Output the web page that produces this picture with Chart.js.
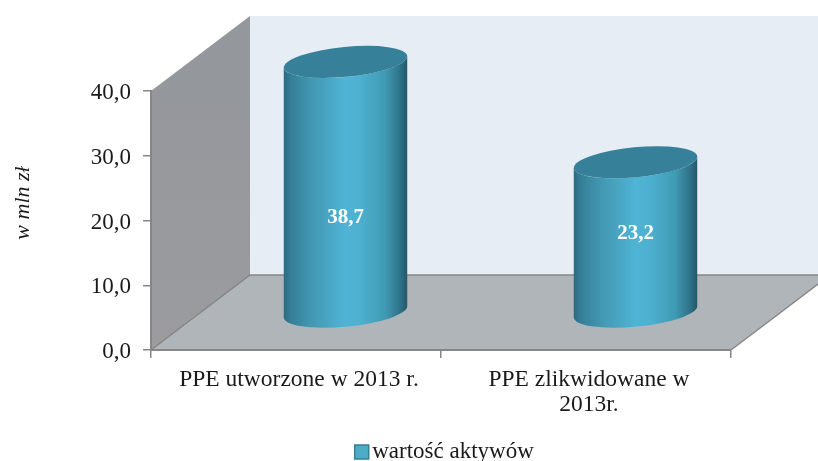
<!DOCTYPE html>
<html>
<head>
<meta charset="utf-8">
<script src="https://cdn.jsdelivr.net/npm/chart.js@4/dist/chart.umd.js"></script>
<style>
    html, body { margin: 0; padding: 0; background: #ffffff; }
    canvas { display: block; }
</style>
</head>
<body>
<canvas id="myChart" width="818" height="461"></canvas>
<script>
var categories = ["PPE utworzone w 2013 r.", ["PPE zlikwidowane w", "2013r."]];
var values = [38.7, 23.2];
var seriesName = "wartość aktywów";
var axisTitle = "w mln zł";

// how far the back wall sits from the front plane
var depthX = 99;
var depthY = -75;
var serif = "'Liberation Serif', serif";
var lineColor = "#868686";

var formatValue = (value) => {
    return value.toFixed(1).replace(".", ",");
}

var drawWalls = (chart) => {
    const ctx = chart.ctx;
    const area = chart.chartArea;

    // back wall
    ctx.fillStyle = "#e6edf4";
    ctx.fillRect(area.left + depthX, area.top + depthY, chart.width - area.left - depthX, area.bottom - area.top);

    // left wall
    let wallGradient = ctx.createLinearGradient(0, area.top, 0, area.bottom);
    wallGradient.addColorStop(0, "#94979c");
    wallGradient.addColorStop(1, "#9c9c9f");
    ctx.fillStyle = wallGradient;
    ctx.beginPath();
    ctx.moveTo(area.left, area.top);
    ctx.lineTo(area.left + depthX, area.top + depthY);
    ctx.lineTo(area.left + depthX, area.bottom + depthY);
    ctx.lineTo(area.left, area.bottom);
    ctx.closePath();
    ctx.fill();

    // floor
    ctx.fillStyle = "#b0b5ba";
    ctx.beginPath();
    ctx.moveTo(area.left, area.bottom);
    ctx.lineTo(area.right, area.bottom);
    ctx.lineTo(area.right + depthX, area.bottom + depthY);
    ctx.lineTo(area.left + depthX, area.bottom + depthY);
    ctx.closePath();
    ctx.fill();

    ctx.strokeStyle = lineColor;
    ctx.lineWidth = 1.5;
    ctx.beginPath();
    ctx.moveTo(area.left, area.bottom);
    ctx.lineTo(area.left + depthX, area.bottom + depthY);
    ctx.lineTo(chart.width, area.bottom + depthY);
    ctx.moveTo(area.right, area.bottom);
    ctx.lineTo(area.right + depthX, area.bottom + depthY);
    ctx.stroke();
}

var drawCylinder = (ctx, bar) => {
    const tilt = -5.5 * Math.PI / 180;
    const cx = bar.x + depthX / 2;
    const topY = bar.y + depthY / 2;
    const baseY = bar.base + depthY / 2;
    const rx = bar.width / 2;
    const ry = rx * 0.242;
    const edge = Math.atan2(-ry * Math.sin(tilt), rx * Math.cos(tilt));

    let side = ctx.createLinearGradient(cx - rx, 0, cx + rx, 0);
    side.addColorStop(0, "#2a6a80");
    side.addColorStop(0.06, "#347f97");
    side.addColorStop(0.22, "#4297b1");
    side.addColorStop(0.5, "#4fb4d5");
    side.addColorStop(0.62, "#4db0d0");
    side.addColorStop(0.82, "#3f9bb3");
    side.addColorStop(0.94, "#2f7288");
    side.addColorStop(1, "#235667");

    ctx.fillStyle = side;
    ctx.beginPath();
    ctx.ellipse(cx, baseY, rx, ry, tilt, edge, edge + Math.PI);
    ctx.ellipse(cx, topY, rx, ry, tilt, edge + Math.PI, edge, true);
    ctx.closePath();
    ctx.fill();

    ctx.fillStyle = "#37809a";
    ctx.beginPath();
    ctx.ellipse(cx, topY, rx, ry, tilt, 0, Math.PI * 2);
    ctx.fill();
}

var cylinderPlugin = {
    id: "cylinders",
    beforeDraw: (chart) => {
        drawWalls(chart);
    },
    beforeDatasetDraw: (chart, args) => {
        const ctx = chart.ctx;
        ctx.save();
        args.meta.data.forEach((bar) => {
            drawCylinder(ctx, bar);
        });
        ctx.restore();
        // the flat rectangles are replaced by the cylinders
        return false;
    },
    afterDatasetsDraw: (chart) => {
        const ctx = chart.ctx;
        const bars = chart.getDatasetMeta(0).data;
        const labelNudge = [31, -3];
        ctx.save();
        ctx.fillStyle = "#ffffff";
        ctx.font = "bold 21px " + serif;
        ctx.textAlign = "center";
        ctx.textBaseline = "middle";
        bars.forEach((bar, i) => {
            const midY = (bar.y + bar.base + depthY) / 2;
            ctx.fillText(formatValue(values[i]), bar.x + depthX / 2, midY + labelNudge[i]);
        });
        // axis title sits above the middle of the axis, so it is placed by hand
        ctx.fillStyle = "#1a1a1a";
        ctx.font = "italic 22px " + serif;
        ctx.translate(23, 203);
        ctx.rotate(-Math.PI / 2);
        ctx.fillText(axisTitle, 0, 0);
        ctx.restore();
    },
    afterDraw: (chart) => {
        // legend text sits closer to its box than the library allows
        const ctx = chart.ctx;
        const hit = chart.legend.legendHitBoxes[0];
        ctx.save();
        ctx.fillStyle = "#4bacc6";
        ctx.strokeStyle = "#357f93";
        ctx.lineWidth = 1.5;
        ctx.fillRect(hit.left + 6.5, hit.top + 5, 14, 14);
        ctx.strokeRect(hit.left + 6.5, hit.top + 5, 14, 14);
        ctx.restore();
    }
};

new Chart(document.getElementById("myChart").getContext("2d"), {
    type: "bar",
    data: {
        labels: categories,
        datasets: [{
            label: seriesName,
            data: values,
            backgroundColor: "#4bacc6",
            borderColor: "#357f93",
            borderWidth: 1.5,
            barPercentage: 0.4276,
            categoryPercentage: 1
        }]
    },
    plugins: [cylinderPlugin],
    options: {
        responsive: false,
        animation: false,
        layout: {
            padding: { top: 91, right: 87, bottom: -12, left: 0 }
        },
        scales: {
            x: {
                afterFit: (scale) => { scale.height = 88; },
                border: { color: lineColor, width: 2 },
                grid: { drawOnChartArea: false, drawTicks: true, tickLength: 8, color: lineColor, lineWidth: 1.5 },
                ticks: {
                    color: "#1a1a1a",
                    maxRotation: 0,
                    autoSkip: false,
                    padding: 9,
                    labelOffset: 3,
                    font: { family: serif, size: 23.5, lineHeight: 1.06 }
                }
            },
            y: {
                min: 0,
                max: 40,
                afterFit: (scale) => { scale.width = 151; },
                border: { color: lineColor, width: 2 },
                grid: { drawOnChartArea: false, drawTicks: true, tickLength: 8, color: lineColor, lineWidth: 1.5 },
                ticks: {
                    stepSize: 10,
                    color: "#1a1a1a",
                    padding: 12,
                    labelOffset: 2,
                    callback: (value) => formatValue(value),
                    font: { family: serif, size: 23 }
                }
            }
        },
        plugins: {
            legend: {
                position: "bottom",
                fullSize: false,
                labels: {
                    color: "#1a1a1a",
                    boxWidth: 12.5,
                    boxHeight: 14,
                    padding: 2,
                    font: { family: serif, size: 23 },
                    generateLabels: (chart) => {
                        return Chart.defaults.plugins.legend.labels.generateLabels(chart).map((item) => {
                            return { ...item, fillStyle: "transparent", strokeStyle: "transparent", lineWidth: 0 };
                        });
                    }
                }
            },
            tooltip: { enabled: false }
        }
    }
});
</script>
</body>
</html>
